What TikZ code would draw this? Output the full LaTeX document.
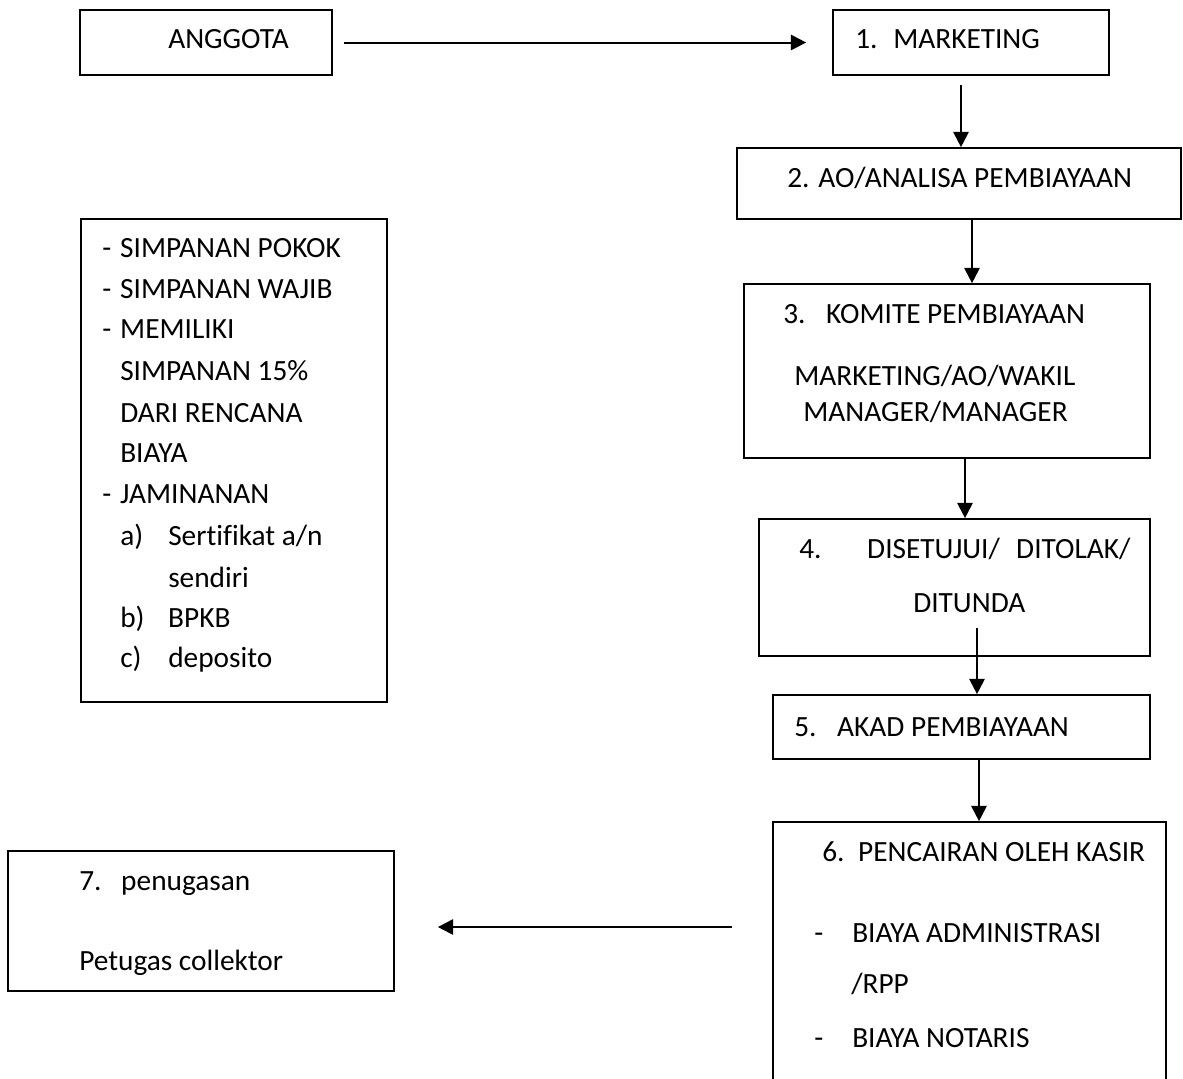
\documentclass[tikz,border=0pt]{standalone}
\usepackage{fontspec}
\setmainfont{Carlito}[Ligatures={NoCommon}]
\usetikzlibrary{arrows.meta}
\usetikzlibrary{fit}
\tikzset{box/.style = {draw, line width=1.25pt, inner sep=0pt}}
\tikzset{txt/.style = {anchor=base west, inner sep=0pt}}
\tikzset{flow/.style = {-{Triangle[length=11.5pt,width=11.5pt]}, line width=1.5pt}}
\newcommand{\numlab}[2]{\makebox[#1][l]{#2}}

\begin{document}
\begin{tikzpicture}[x=0.75pt, y=-0.75pt,
    every node/.style={font=\fontsize{22}{30.75}\selectfont}]
  \useasboundingbox (0,0) rectangle (1183,1079);
  \clip (0,0) rectangle (1183,1079);
  % boxes
  \node[box, fit={(80,10) (332,75)}] (anggota) {};
  \node[box, fit={(833,10) (1109,75)}] (mkt) {};
  \node[box, fit={(737,148) (1181,219)}] (ao) {};
  \node[box, fit={(744,284) (1150,458)}] (komite) {};
  \node[box, fit={(759,519) (1150,656)}] (putusan) {};
  \node[box, fit={(773,695) (1150,759)}] (akad) {};
  \node[box, fit={(773,822) (1166,1110)}] (cair) {};
  \node[box, fit={(8,851) (394,991)}] (tugas) {};
  \node[box, fit={(81,219) (387,702)}] (syarat) {};
  % texts
  \node[txt] (t0) at (168,48) {ANGGOTA};
  \node[txt] (t1) at (855,48) {\numlab{28.5pt}{1.}MARKETING};
  \node[txt] (t2) at (787,187) {2. AO/ANALISA PEMBIAYAAN};
  \node[txt] (t3) at (783,323) {\numlab{32.25pt}{3.}KOMITE PEMBIAYAAN};
  \node[txt] (t3a) at (794,385) {MARKETING/AO/WAKIL};
  \node[txt] (t3b) at (803,421) {MANAGER/MANAGER};
  \node[txt] (t4) at (799,558)
    {\numlab{51pt}{4.}\numlab{111.75pt}{DISETUJUI/}DITOLAK/};
  \node[txt] (t4a) at (913,612) {DITUNDA};
  \node[txt] (t5) at (794,736) {\numlab{32.25pt}{5.}AKAD PEMBIAYAAN};
  \node[txt] (t6) at (822,861) {\numlab{27pt}{6.}PENCAIRAN OLEH KASIR};
  \node[txt] (t6a) at (814,942) {\numlab{28.5pt}{-}BIAYA ADMINISTRASI};
  \node[txt] (t6b) at (851,993) {/RPP};
  \node[txt] (t6c) at (814,1047) {\numlab{28.5pt}{-}BIAYA NOTARIS};
  \node[txt] (t7) at (79,890) {\numlab{31.5pt}{7.}penugasan};
  \node[txt] (t7a) at (79,970) {Petugas collektor};
  \node[txt] (s1) at (102,257) {\numlab{13.5pt}{-}SIMPANAN POKOK};
  \node[txt] (s2) at (102,298) {\numlab{13.5pt}{-}SIMPANAN WAJIB};
  \node[txt] (s3) at (102,338) {\numlab{13.5pt}{-}MEMILIKI};
  \node[txt] (s3a) at (120,380) {SIMPANAN 15\%};
  \node[txt] (s3b) at (120,422) {DARI RENCANA};
  \node[txt] (s3c) at (120,462) {BIAYA};
  \node[txt] (s4) at (102,503) {\numlab{13.5pt}{-}JAMINANAN};
  \node[txt] (s4a) at (120,545) {\numlab{36pt}{a)}Sertifikat a/n};
  \node[txt] (s4b) at (168,587) {sendiri};
  \node[txt] (s4c) at (120,627) {\numlab{36pt}{b)}BPKB};
  \node[txt] (s4d) at (120,667) {\numlab{36pt}{c)}deposito};
  % arrow columns
  \coordinate (colb) at (961,0);
  \coordinate (colc) at (972,0);
  \coordinate (cold) at (965,0);
  \coordinate (decout) at (977,628);
  \coordinate (colf) at (979,0);
  \coordinate (cairout) at (732,927);
  % connectors
  \draw[flow, shorten <=8.25pt, shorten >=19.5pt] (anggota.east) -- (mkt.west);
  \draw[flow, shorten <=6.75pt] (mkt.south -| colb) -- (ao.north -| colb);
  \draw[flow] (ao.south -| colc) -- (komite.north -| colc);
  \draw[flow] (komite.south -| cold) -- (putusan.north -| cold);
  \draw[flow] (decout) -- (akad.north -| decout);
  \draw[flow] (akad.south -| colf) -- (cair.north -| colf);
  \draw[flow, shorten >=32.25pt] (cairout) -- (cairout -| tugas.east);
\end{tikzpicture}
\end{document}
